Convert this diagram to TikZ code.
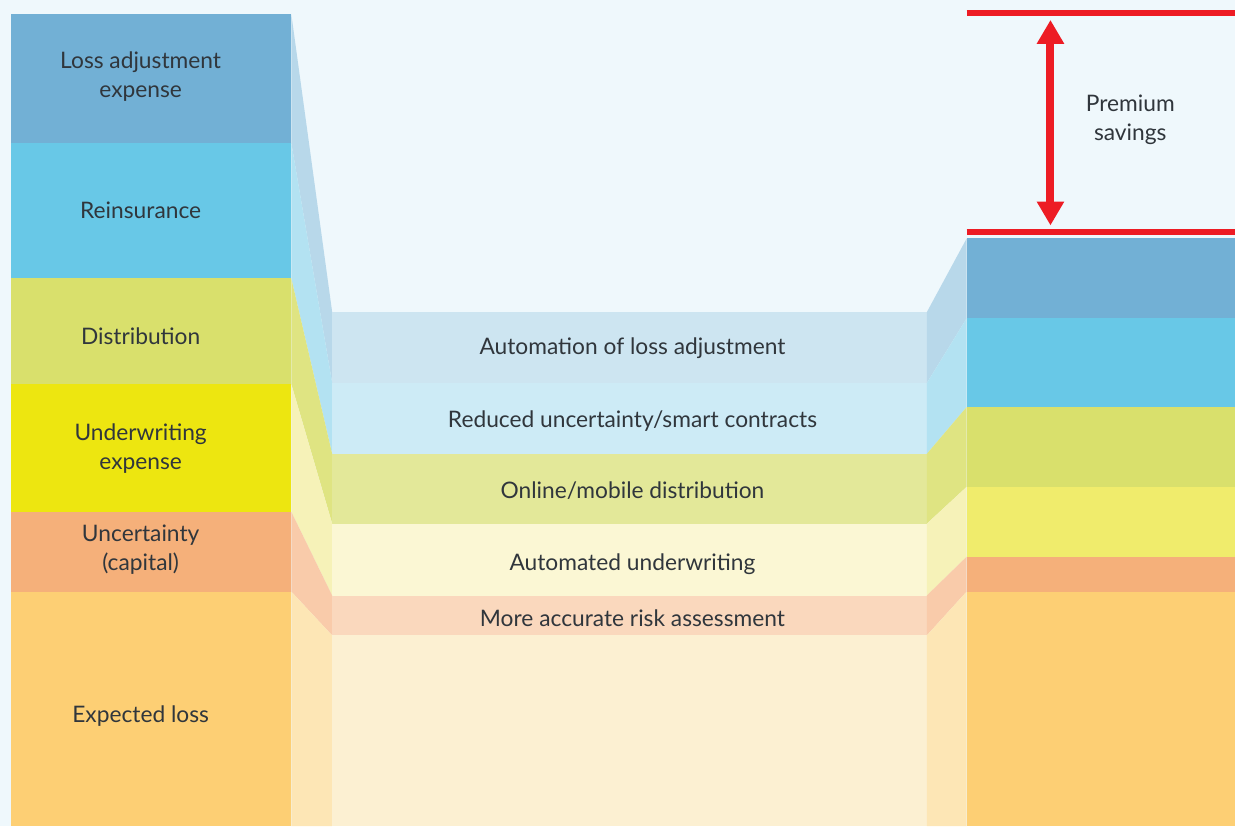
\documentclass[tikz,border=0pt]{standalone}
\usepackage{fontspec}
\setmainfont{Lato}
\usepackage{xcolor}
\usetikzlibrary{arrows.meta}
\definecolor{BgBase}{HTML}{EFF8FC}
\definecolor{TextDark}{HTML}{30363C}
\definecolor{SavRed}{HTML}{ED1C24}
% Farben je Schicht: Left / Trans / Mid / Right
\definecolor{LaeLeft}{HTML}{72B0D5}
\definecolor{LaeTrans}{HTML}{B8D8EA}
\definecolor{LaeMid}{HTML}{CDE5F1}
\definecolor{LaeRight}{HTML}{72B0D5}
\definecolor{ReinLeft}{HTML}{68C8E7}
\definecolor{ReinTrans}{HTML}{B3E2F2}
\definecolor{ReinMid}{HTML}{CDEBF6}
\definecolor{ReinRight}{HTML}{68C8E7}
\definecolor{DistLeft}{HTML}{D9E06C}
\definecolor{DistTrans}{HTML}{DFE482}
\definecolor{DistMid}{HTML}{E3E899}
\definecolor{DistRight}{HTML}{D9E06C}
\definecolor{UwLeft}{HTML}{EDE610}
\definecolor{UwTrans}{HTML}{F6F2B8}
\definecolor{UwMid}{HTML}{FBF7D4}
\definecolor{UwRight}{HTML}{F0EC6C}
\definecolor{UncLeft}{HTML}{F5B07A}
\definecolor{UncTrans}{HTML}{F9CBAA}
\definecolor{UncMid}{HTML}{FAD8BD}
\definecolor{UncRight}{HTML}{F5B07A}
\definecolor{ElLeft}{HTML}{FDCF74}
\definecolor{ElTrans}{HTML}{FDE6B5}
\definecolor{ElMid}{HTML}{FCF0D2}
\definecolor{ElRight}{HTML}{FDCF74}

\begin{document}
\begin{tikzpicture}[x=1pt, y=-1pt,
  lbl/.style={text=TextDark, font=\fontsize{22.8}{29}\selectfont, align=center},
  savline/.style={draw=SavRed, line width=6pt},
  savarrow/.style={draw=SavRed, line width=8pt, {Triangle[width=26pt,length=24pt]}-{Triangle[width=26pt,length=24pt]}}]

  % Hintergrund (1238 x 828)
  \fill[BgBase] (0,0) rectangle (1238,828);

  % Makro fuer eine Kostenschicht
  % Parameter: 1/2=y links oben/unten, 3/4=y Mitte oben/unten, 5/6=y rechts oben/unten, 7=Farbpraefix
  \def\costband#1#2#3#4#5#6#7{
    \fill[#7Left] (11,#1) rectangle (292,#2);
    \fill[#7Trans] (292,#1) -- (333,#3) -- (333,#4) -- (292,#2) -- cycle;
    \fill[#7Mid] (333,#3) rectangle (929,#4);
    \fill[#7Trans] (929,#3) -- (969,#5) -- (969,#6) -- (929,#4) -- cycle;
    \fill[#7Right] (969,#5) rectangle (1238,#6);
  }

  % Schichten von oben nach unten
  \costband{14}{143}{313}{384}{239}{319}{Lae}
  \costband{143}{279}{384}{455}{319}{408}{Rein}
  \costband{279}{385}{455}{525}{408}{488}{Dist}
  \costband{385}{513}{525}{597}{488}{558}{Uw}
  \costband{513}{593}{597}{637}{558}{593}{Unc}
  \costband{593}{828}{637}{828}{593}{828}{El}

  % Beschriftungen links
  \node[lbl] (lae) at (141,77) {Loss adjustment\\expense};
  \node[lbl] (rein) at (141,211) {Reinsurance};
  \node[lbl] (dist) at (141,337) {Distribution};
  \node[lbl] (uw) at (141,450) {Underwriting\\expense};
  \node[lbl] (unc) at (141,551) {Uncertainty\\(capital)};
  \node[lbl] (el) at (141,718) {Expected loss};

  % Beschriftungen Mitte
  \node[lbl] (autolae) at (634,349) {Automation of loss adjustment};
  \node[lbl] (smart) at (634,422) {Reduced uncertainty/smart contracts};
  \node[lbl] (online) at (634,492) {Online/mobile distribution};
  \node[lbl] (autouw) at (634,566) {Automated underwriting};
  \node[lbl] (risk) at (634,620) {More accurate risk assessment};

  % Praemienersparnis
  \draw[savline] (969,13) -- (1238,13);
  \draw[savline] (969,233) -- (1238,233);
  \coordinate (savtop) at (1053,20);
  \coordinate (savbot) at (1053,226);
  \draw[savarrow] (savtop) -- (savbot);
  \node[lbl] (sav) at (1133,120) {Premium\\savings};

\end{tikzpicture}
\end{document}
